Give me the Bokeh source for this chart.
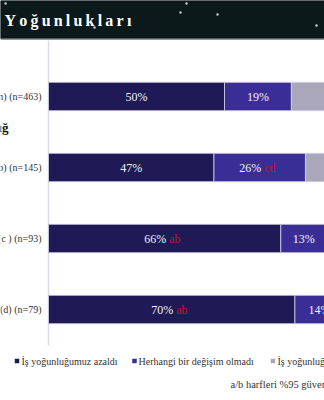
from bokeh.plotting import figure
from bokeh.models import Range1d
from bokeh.core.properties import value
from bokeh.embed import file_html
from bokeh.resources import INLINE

# ---------------- data ----------------
groups = ["(Toplam) (n=463)", "1-9 çalışan (b) (n=145)",
          "10-49 çalışan (c ) (n=93)", "50+ çalışan (d) (n=79)"]
azaldi = [50, 47, 66, 70]          # İş yoğunluğumuz azaldı
degisim = [19, 26, 13, 14]         # Herhangi bir değişim olmadı
artti = [31, 27, 21, 16]           # İş yoğunluğumuz arttı
sig_azaldi = ["", "", "ab", "ab"]
sig_degisim = ["", "cd", "", ""]
series_names = ["İş yoğunluğumuz azaldı", "Herhangi bir değişim olmadı",
                "İş yoğunluğumuz arttı"]
title = "Yoğunlukları"
section = "Çalışan Büyüklüğ"
footnote = "a/b harfleri %95 güven düzeyinde anlamlı farkı gösterir"

colors = ["#1f1a56", "#3a2e96", "#a9a7b9"]
FONT = "Liberation Serif"

# ---------------- figure ----------------
W, H = 324, 400
p = figure(width=W, height=H, output_backend="svg", toolbar_location=None,
           x_range=Range1d(-48 / 3.52, 276 / 3.52),
           y_range=Range1d(304 / 71, -96 / 71),
           min_border=0, outline_line_color=None, background_fill_color="white",
           border_fill_color="white")
p.extra_x_ranges = {"px": Range1d(0, W)}
p.extra_y_ranges = {"px": Range1d(H, 0)}
p.axis.visible = False
p.grid.visible = False

PX = dict(x_range_name="px", y_range_name="px")

# header band
p.quad(left=[0], right=[W], top=[0], bottom=[38], color="#0c191b", **PX)
p.segment(x0=[0], x1=[W], y0=[38.8], y1=[38.8], line_color="#9a9a9a", line_width=1.5, **PX)
p.scatter(x=[5, 186, 180, 217, 316, 94], y=[3, 3, 12, 14, 25, 27], size=2.5,
          color="#c8c8c8", line_color=None, **PX)
p.text(x=[4], y=[20], text=["\u2009".join(title)], text_font=value(FONT),
       text_font_style="bold", text_font_size="16px", text_color="white",
       text_baseline="middle", text_align="left", **PX)

# section heading (cut off)
p.text(x=[8], y=[127], text=[section], text_font=value(FONT), text_font_style="bold",
       text_font_size="13px", text_color="#111111", text_align="right",
       text_baseline="middle", **PX)

# axis line
p.segment(x0=[0], x1=[0], y0=[40], y1=[345], line_color="#dadaf0", line_width=1.5,
          y_range_name="px")

rows = list(range(len(groups)))
mid = [a + b for a, b in zip(azaldi, degisim)]
tot = [m + c for m, c in zip(mid, artti)]
lefts = [[0] * len(rows), azaldi, mid]
rights = [azaldi, mid, tot]
vals = [azaldi, degisim, artti]
sigs = [sig_azaldi, sig_degisim, [""] * len(rows)]

for k in range(3):
    p.hbar(y=rows, left=lefts[k], right=rights[k], height=0.40, fill_color=colors[k],
           line_color="#d4d4e6", line_width=0.8)

LBL = dict(text_font=value(FONT), text_font_size="12px", text_baseline="middle")
for k in range(3):
    cx_plain, cy_plain, t_plain = [], [], []
    cx_sig, cy_sig, t_sig, s_sig = [], [], [], []
    for i in rows:
        c = (lefts[k][i] + rights[k][i]) / 2
        if sigs[k][i]:
            cx_sig.append(c); cy_sig.append(i)
            t_sig.append(f"{vals[k][i]}%"); s_sig.append(sigs[k][i])
        else:
            cx_plain.append(c); cy_plain.append(i); t_plain.append(f"{vals[k][i]}%")
    tcol = "#f0f0f6" if k < 2 else "#222222"
    p.text(x=cx_plain, y=cy_plain, text=t_plain, text_color=tcol, text_align="center", **LBL)
    if cx_sig:
        p.text(x=cx_sig, y=cy_sig, text=t_sig, text_color=tcol, text_align="right",
               x_offset=1.5, **LBL)
        p.text(x=cx_sig, y=cy_sig, text=s_sig, text_color="#c8102e", text_align="left",
               x_offset=4.5, **LBL)

# group labels
p.text(x=[-7 / 3.52] * len(rows), y=rows, text=groups, text_font=value(FONT),
       text_font_size="10px", text_color="#333333", text_align="right",
       text_baseline="middle")

# legend
leg_x = [16.5, 134, 272.5]
txt_x = [21, 138, 277]
p.scatter(x=leg_x, y=[360.5] * 3, marker="square", size=4.5, color=colors,
          line_color=None, **PX)
p.text(x=txt_x, y=[361] * 3, text=series_names, text_font=value(FONT),
       text_font_size="10px", text_color="#333333", text_align="left",
       text_baseline="middle", **PX)

# footnote
p.text(x=[230], y=[384], text=[footnote], text_font=value(FONT), text_font_size="10.5px",
       text_color="#333333", text_align="left", text_baseline="middle", **PX)

open("out.html", "w").write(file_html(p, INLINE))
